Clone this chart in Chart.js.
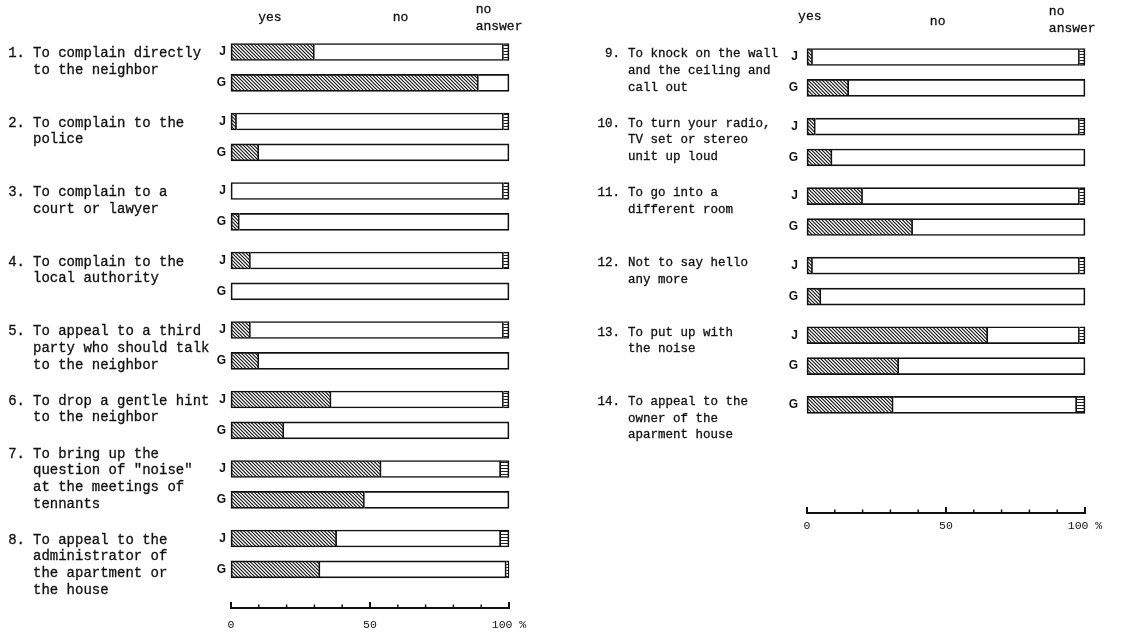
<!DOCTYPE html>
<html><head><meta charset="utf-8">
<script src="https://cdn.jsdelivr.net/npm/chart.js@4/dist/chart.umd.min.js"></script>
<style>
html,body{margin:0;padding:0;background:#fff;}
#wrap{position:relative;width:1121px;height:633px;overflow:hidden;background:#fff;}
canvas{position:absolute;left:0;top:0;}
</style></head><body>
<div id="wrap"><canvas id="cl" width="1121" height="633"></canvas><canvas id="cr" width="1121" height="633"></canvas></div>
<script>
// ---------- DATA ----------
const itemNums = ['1.','2.','3.','4.','5.','6.','7.','8.','9.','10.','11.','12.','13.','14.'];
const itemLines = [
  ['To complain directly','to the neighbor'],
  ['To complain to the','police'],
  ['To complain to a','court or lawyer'],
  ['To complain to the','local authority'],
  ['To appeal to a third','party who should talk','to the neighbor'],
  ['To drop a gentle hint','to the neighbor'],
  ['To bring up the','question of "noise"','at the meetings of','tennants'],
  ['To appeal to the','administrator of','the apartment or','the house'],
  ['To knock on the wall','and the ceiling and','call out'],
  ['To turn your radio,','TV set or stereo','unit up loud'],
  ['To go into a','different room'],
  ['Not to say hello','any more'],
  ['To put up with','the noise'],
  ['To appeal to the','owner of the','aparment house']
];
// percentages: yes / no / no answer (J = Japan, G = Germany)
const jYes = [30, 2, 0, 7, 7, 36, 54, 38, 2, 3, 20, 2, 65, null];
const jNo  = [68,96,98,91,91, 62, 43, 59,96,95, 78,96, 33, null];
const jNA  = [ 2, 2, 2, 2, 2,  2,  3,  3, 2, 2,  2, 2,  2, null];
const gYes = [89,10, 3, 0,10, 19, 48, 32,15, 9, 38, 5, 33, 31];
const gNo  = [11,90,97,100,90,81, 52, 67,85,91, 62,95, 67, 66];
const gNA  = [ 0, 0, 0, 0, 0,  0,  0,  1, 0, 0,  0, 0,  0,  3];
const seriesNames = ['J','G'];
const headerLabels = ['yes','no','no answer'];
const xTickValues = [0, 50, 100];
const xTickLabels = ['0', '50', '100 %'];
const leftItems = [0,1,2,3,4,5,6,7];
const rightItems = [8,9,10,11,12,13];

// ---------- LAYOUT / STYLE ----------
const slotsPerGroup = 9, seriesGap = 4;
const seriesData = {J:{yes:jYes,no:jNo,na:jNA}, G:{yes:gYes,no:gNo,na:gNA}};
const MONO = '"Liberation Mono", "Courier New", monospace';

function mkPattern(w,h,draw){
  const c=document.createElement('canvas'); c.width=w; c.height=h;
  const g=c.getContext('2d'); g.fillStyle='#fff'; g.fillRect(0,0,w,h); draw(g);
  return document.createElement('canvas').getContext('2d').createPattern(c,'repeat');
}
const hatch = mkPattern(7,7,g=>{
  g.strokeStyle='#111'; g.lineWidth=1.1; g.beginPath();
  for(const k of [-7,-3.5,0,3.5,7]){ g.moveTo(k-1,-1); g.lineTo(k+8,8); }
  g.stroke();
});
const naPat = mkPattern(2,3,g=>{ g.fillStyle='#222'; g.fillRect(0,0,2,1); });

function panelRows(items,totalSlots){
  const labels=Array(totalSlots).fill(''); const rows=Array(totalSlots).fill(null);
  items.forEach((it,g)=>{
    let k=0;
    seriesNames.forEach(s=>{
      if(seriesData[s].yes[it]==null) return;
      const slot=g*slotsPerGroup+k*seriesGap;
      labels[slot]=s; rows[slot]={it,s}; k++;
    });
  });
  return {labels,rows};
}
const nz = v => (v ? v : null);

function txt(ctx,s,x,y){ ctx.fillText(s,x,y); ctx.strokeText(s,x,y); }

const panelPlugin = {
  id:'panelText',
  afterDraw(chart,args,o){
    const {ctx, scales:{x,y}} = chart;
    ctx.save();
    ctx.fillStyle='#111'; ctx.strokeStyle='#111'; ctx.lineWidth=0.3; ctx.textBaseline='middle';
    ctx.font=o.fontSize+'px '+MONO;
    o.items.forEach((it,g)=>{
      const lead = it===6 ? 1 : 0;
      const y0 = y.getPixelForValue(g*slotsPerGroup) + o.textDy - lead*o.lineH;
      ctx.textAlign='right'; txt(ctx,itemNums[it], o.numRight, y0);
      ctx.textAlign='left';
      itemLines[it].forEach((ln,k)=>txt(ctx,ln, o.textX, y0+k*o.lineH));
    });
    // header
    ctx.font='13px '+MONO;
    ctx.textAlign='center';
    txt(ctx,headerLabels[0], x.getPixelForValue(o.hdr[0]), o.hdrY[0]);
    txt(ctx,headerLabels[1], x.getPixelForValue(o.hdr[1]), o.hdrY[1]);
    ctx.textAlign='left';
    const na = headerLabels[2].split(' ');
    txt(ctx,na[0], x.getPixelForValue(o.hdr[2]), o.hdrY[2]);
    txt(ctx,na[1], x.getPixelForValue(o.hdr[2]), o.hdrY[2]+17);
    // axis with upward ticks
    const yb = chart.chartArea.bottom;
    ctx.strokeStyle='#111'; ctx.lineWidth=2;
    ctx.beginPath(); ctx.moveTo(x.getPixelForValue(0)-1,yb); ctx.lineTo(x.getPixelForValue(100)+1,yb); ctx.stroke();
    for(let v=0; v<=100; v+=10){
      const px=x.getPixelForValue(v), major=v%50===0;
      ctx.lineWidth = major?2:1.5;
      ctx.beginPath(); ctx.moveTo(px,yb); ctx.lineTo(px,yb-(major?6:3.5)); ctx.stroke();
    }
    ctx.restore();
  }
};

function makeChart(id, items, totalSlots, yWidth, pad, tickPad, opts){
  const {labels,rows} = panelRows(items,totalSlots);
  const keys=['yes','no','na'];
  const bgs={yes:hatch,no:'#fff',na:naPat};
  const datasets = keys.map(key=>({
    label:key,
    data: rows.map(r=> r ? nz(seriesData[r.s][key][r.it]) : null),
    backgroundColor: bgs[key],
    borderColor:'#111',
    borderWidth:1.7,
    borderSkipped: key==='yes' ? false : (key==='na' ? 'start' :
      (c=>{ const r=rows[c.dataIndex]; return r && seriesData[r.s].yes[r.it] ? 'start' : false; })),
    barThickness:17,
    clip:false
  }));
  return new Chart(document.getElementById(id),{
    type:'bar',
    data:{labels,datasets},
    plugins:[panelPlugin],
    options:{
      indexAxis:'y', responsive:false, animation:false, devicePixelRatio:1,
      layout:{padding:pad},
      plugins:{legend:{display:false}, tooltip:{enabled:false}, panelText:opts},
      scales:{
        y:{type:'category', stacked:true, offset:false,
           grid:{display:false, drawTicks:false}, border:{display:false},
           ticks:{autoSkip:false, color:'#111', padding:tickPad, font:{family:'"Liberation Sans", Arial, sans-serif', weight:'bold', size:12}},
           afterFit:s=>{ s.width=yWidth; }},
        x:{type:'linear', stacked:true, min:0, max:100,
           grid:{display:false, drawTicks:false}, border:{display:false},
           afterBuildTicks:s=>{ s.ticks = xTickValues.map(v=>({value:v})); },
           ticks:{color:'#111', padding:opts.tickLabelPad, maxRotation:0, font:{family:MONO, size:11.5},
                  callback:(v)=> xTickLabels[xTickValues.indexOf(v)]},
           afterFit:s=>{ s.height=25; }}
      }
    }
  });
}

makeChart('cl', leftItems, 73, 231, {left:0,right:612,top:52,bottom:0}, 5,
  {items:leftItems, fontSize:14, numRight:25, textX:33, textDy:1.5, lineH:16.7, hdr:[14,61,88], hdrY:[18,18,10], tickLabelPad:10});
makeChart('cr', rightItems, 60, 807, {left:0,right:36,top:57,bottom:95}, 9,
  {items:rightItems, fontSize:12.5, numRight:620, textX:628, textDy:-3, lineH:16.6, hdr:[1,47,87], hdrY:[17,22,12], tickLabelPad:6});
</script>
</body></html>
